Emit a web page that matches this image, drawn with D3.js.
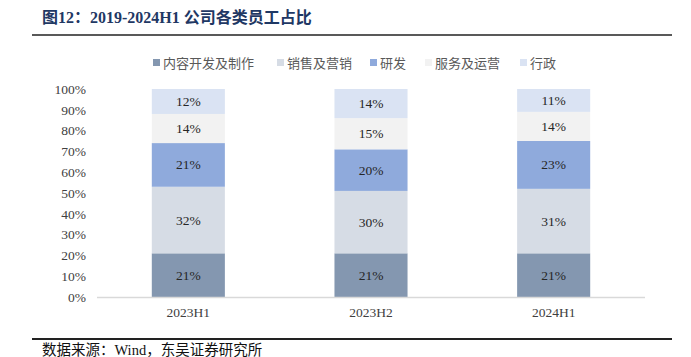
<!DOCTYPE html>
<html><head><meta charset="utf-8">
<script src="https://cdn.jsdelivr.net/npm/d3@7"></script>
<style>body{margin:0;background:#fff;}svg{display:block;}</style>
</head><body>
<svg id="c" width="691" height="357"></svg>
<script>
const categories = ["2023H1", "2023H2", "2024H1"];
const seriesNames = ["内容开发及制作", "销售及营销", "研发", "服务及运营", "行政"];
const s1 = [21, 21, 21];
const s2 = [32, 30, 31];
const s3 = [21, 20, 23];
const s4 = [14, 15, 14];
const s5 = [12, 14, 11];
const yTicks = [0, 10, 20, 30, 40, 50, 60, 70, 80, 90, 100];
const colors = ["#8497B0", "#D6DCE5", "#8FAADC", "#F2F2F2", "#DAE3F3"];
const title = "图12：2019-2024H1 公司各类员工占比";
const source = "数据来源：Wind，东吴证券研究所";

const serif = "'Liberation Serif','Times New Roman','Noto Sans CJK SC',serif";
const svg = d3.select("#c");
const allSeries = [s1, s2, s3, s4, s5];

// title
svg.append("text").attr("x", 42).attr("y", 23).text(title)
  .attr("font-family", serif).attr("font-weight", "bold").attr("font-size", 16).attr("fill", "#1F3864");
svg.append("line").attr("x1", 32).attr("x2", 672).attr("y1", 35).attr("y2", 35)
  .attr("stroke", "#222").attr("stroke-width", 1.6);

const x = d3.scaleBand().domain(categories).range([97, 645]).paddingInner(0.6).paddingOuter(0.3);
const y = d3.scaleLinear().domain([0, 100]).range([297, 89]);

// stack
const table = categories.map((c, i) => {
  const o = {cat: c};
  seriesNames.forEach((s, j) => o[s] = allSeries[j][i]);
  return o;
});
const stacked = d3.stack().keys(seriesNames)(table);

const g = svg.append("g");
stacked.forEach((layer, j) => {
  layer.forEach(d => {
    const x0 = x(d.data.cat);
    g.append("rect").attr("x", x0).attr("width", x.bandwidth())
      .attr("y", y(d[1])).attr("height", y(d[0]) - y(d[1])).attr("fill", colors[j]);
    g.append("text").attr("x", x0 + x.bandwidth() / 2).attr("y", (y(d[0]) + y(d[1])) / 2 + 4.5)
      .attr("text-anchor", "middle").attr("font-family", serif).attr("font-size", 13.5)
      .attr("fill", "#262626").text(d[1] - d[0] + "%");
  });
});

// axis line
svg.append("line").attr("x1", 97).attr("x2", 645).attr("y1", y(0) + 0.5).attr("y2", y(0) + 0.5)
  .attr("stroke", "#D9D9D9").attr("stroke-width", 1.5);

// y ticks
const yAxis = svg.append("g").attr("transform", "translate(86,0)")
  .call(d3.axisLeft(y).tickValues(yTicks).tickFormat(d => d + "%").tickSize(0).tickPadding(0));
yAxis.select(".domain").remove();
yAxis.selectAll("text").attr("font-family", serif).attr("font-size", 13.5).attr("fill", "#404040");

// x ticks
const xAxis = svg.append("g").attr("transform", "translate(0," + 297 + ")")
  .call(d3.axisBottom(x).tickSize(0).tickPadding(10));
xAxis.select(".domain").remove();
xAxis.selectAll("text").attr("font-family", serif).attr("font-size", 13.5).attr("fill", "#404040");

// legend
const legendX = [153, 277, 370, 425, 520];
const lg = svg.append("g");
seriesNames.forEach((s, i) => {
  lg.append("rect").attr("x", legendX[i]).attr("y", 59).attr("width", 7).attr("height", 7).attr("fill", colors[i]);
  lg.append("text").attr("x", legendX[i] + 10).attr("y", 67.5).text(s)
    .attr("font-family", "'Noto Sans CJK SC',sans-serif").attr("font-size", 13).attr("fill", "#595959");
});

// footer
svg.append("line").attr("x1", 32).attr("x2", 672).attr("y1", 339).attr("y2", 339)
  .attr("stroke", "#222").attr("stroke-width", 2);
svg.append("text").attr("x", 42).attr("y", 355).text(source)
  .attr("font-family", serif).attr("font-size", 14.5).attr("fill", "#111");
</script>
</body></html>
